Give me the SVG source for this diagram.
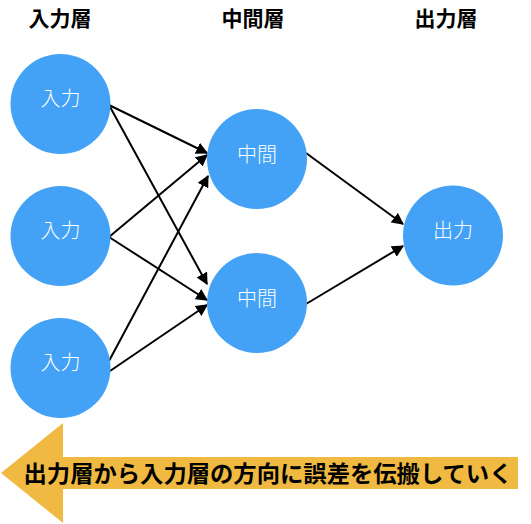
<svg xmlns="http://www.w3.org/2000/svg" width="531" height="524" viewBox="0 0 531 524">
<defs>
<style>
.node{fill:#44A2F6;}
.lbl{font-family:"Noto Sans CJK JP","Noto Sans",sans-serif;font-size:20px;fill:#FFFFFF;text-anchor:middle;font-weight:300;}
.hdr{font-family:"Noto Sans CJK JP","Noto Sans",sans-serif;font-size:21px;font-weight:bold;fill:#000;text-anchor:middle;}
.edge{stroke:#000;stroke-width:2;fill:none;marker-end:url(#ah);}
</style>
<marker id="ah" viewBox="0 0 10 10" refX="9" refY="5" markerWidth="6" markerHeight="6" markerUnits="strokeWidth" orient="auto">
<path d="M0,0 L10,5 L0,10 Z" fill="#000"/>
</marker>
</defs>
<rect width="531" height="524" fill="#FFFFFF"/>
<g id="headers">
<text class="hdr" x="60" y="26">入力層</text>
<text class="hdr" x="253" y="26">中間層</text>
<text class="hdr" x="446" y="26">出力層</text>
</g>
<g id="connectors">
<line class="edge" x1="109" y1="105" x2="207" y2="153"/>
<line class="edge" x1="109" y1="105" x2="207" y2="284"/>
<line class="edge" x1="109" y1="237" x2="207" y2="155"/>
<line class="edge" x1="109" y1="237" x2="207" y2="300"/>
<line class="edge" x1="109" y1="361" x2="208" y2="176"/>
<line class="edge" x1="110" y1="371" x2="207" y2="305"/>
<line class="edge" x1="306" y1="153" x2="403" y2="224"/>
<line class="edge" x1="306" y1="304" x2="403" y2="246"/>
</g>
<g id="in1"><circle class="node" cx="60.5" cy="104" r="50"/><text class="lbl" x="60.5" y="106">入力</text></g>
<g id="in2"><circle class="node" cx="60.5" cy="236" r="50"/><text class="lbl" x="60.5" y="238">入力</text></g>
<g id="in3"><circle class="node" cx="60.5" cy="368" r="50"/><text class="lbl" x="60.5" y="370">入力</text></g>
<g id="mid1"><circle class="node" cx="257" cy="159" r="50"/><text class="lbl" x="257" y="162">中間</text></g>
<g id="mid2"><circle class="node" cx="257" cy="303" r="50"/><text class="lbl" x="257" y="306">中間</text></g>
<g id="out"><circle class="node" cx="453" cy="235.5" r="50"/><text class="lbl" x="453" y="238">出力</text></g>
<g id="backprop">
<path d="M1,473 L63,423 L63,457 L518,457 L518,489 L63,489 L63,523 Z" fill="#F0BA42"/>
<text x="268" y="482" font-family="'Noto Sans CJK JP','Noto Sans',sans-serif" font-size="23" font-weight="bold" fill="#000" text-anchor="middle" textLength="489" lengthAdjust="spacingAndGlyphs">出力層から入力層の方向に誤差を伝搬していく</text>
</g>
</svg>
